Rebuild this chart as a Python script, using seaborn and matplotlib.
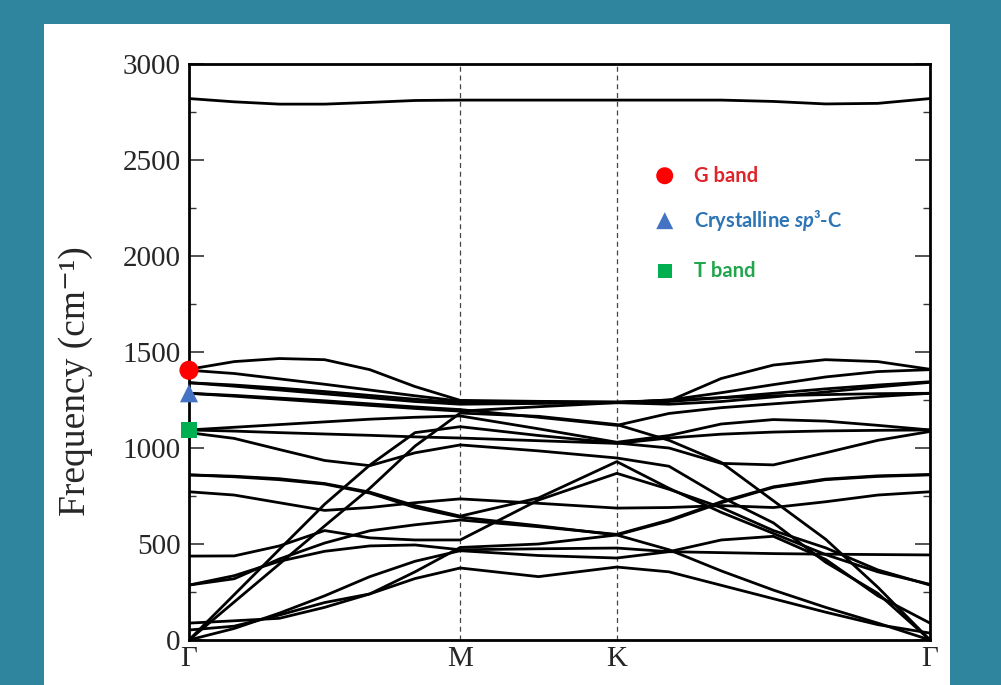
import numpy as np
import pandas as pd
import matplotlib
matplotlib.use("Agg")
import matplotlib.pyplot as plt
from matplotlib.patches import Rectangle
import seaborn as sns

# ---- high-symmetry path Γ–M–K–Γ of the hexagonal Brillouin zone ----
k_labels = ["Γ", "M", "K", "Γ"]
seg_gm, seg_mk, seg_kg = 1.0, 1 / np.sqrt(3), 2 / np.sqrt(3)
k_nodes = [0.0, seg_gm, seg_gm + seg_mk, seg_gm + seg_mk + seg_kg]
k_path = np.concatenate([
    np.linspace(k_nodes[0], k_nodes[1], 7),
    np.linspace(k_nodes[1], k_nodes[2], 3)[1:],
    np.linspace(k_nodes[2], k_nodes[3], 7)[1:],
])

# ---- phonon branches (cm^-1) sampled along k_path ----
band_top = [2820, 2803, 2791, 2791, 2800, 2810, 2812, 2812, 2812, 2812, 2812, 2805, 2792, 2795, 2820]
band_a = [1410, 1450, 1466, 1460, 1408, 1320, 1248, 1243, 1240, 1245, 1362, 1432, 1460, 1450, 1410]
band_b = [1405, 1388, 1360, 1332, 1302, 1272, 1244, 1240, 1238, 1250, 1288, 1330, 1370, 1398, 1408]
band_c = [1340, 1322, 1302, 1282, 1262, 1242, 1228, 1232, 1236, 1228, 1242, 1266, 1292, 1318, 1342]
band_c2 = [1340, 1328, 1312, 1294, 1274, 1254, 1236, 1236, 1237, 1242, 1262, 1285, 1308, 1328, 1345]
band_d = [1285, 1274, 1260, 1246, 1230, 1214, 1200, 1160, 1118, 1180, 1210, 1230, 1250, 1268, 1285]
band_d2 = [1285, 1270, 1254, 1238, 1222, 1206, 1192, 1215, 1236, 1250, 1262, 1272, 1278, 1283, 1285]
band_e = [1094, 1108, 1122, 1136, 1150, 1160, 1167, 1100, 1030, 1065, 1125, 1148, 1140, 1118, 1094]
band_f = [1094, 1088, 1080, 1073, 1066, 1058, 1052, 1038, 1024, 1052, 1072, 1083, 1089, 1092, 1094]
band_g = [1080, 1050, 992, 935, 908, 975, 1016, 985, 948, 905, 745, 610, 405, 243, 0]
band_s1 = [0, 236, 472, 707, 911, 1080, 1111, 1065, 1026, 1000, 920, 912, 975, 1040, 1086]
band_s2 = [0, 198, 396, 594, 790, 1010, 1182, 1165, 1122, 1040, 925, 725, 525, 275, 0]
band_h1 = [860, 850, 835, 812, 765, 690, 640, 595, 547, 620, 715, 795, 835, 852, 860]
band_h2 = [860, 853, 840, 815, 770, 700, 645, 740, 929, 790, 665, 555, 445, 355, 290]
band_i = [772, 755, 715, 675, 690, 715, 735, 712, 687, 690, 700, 690, 720, 755, 772]
band_j = [437, 438, 490, 570, 532, 521, 521, 729, 868, 785, 690, 570, 480, 365, 286]
band_k1 = [286, 319, 422, 505, 569, 600, 625, 590, 550, 625, 720, 798, 838, 855, 862]
band_k2 = [286, 335, 410, 462, 490, 495, 470, 475, 479, 460, 455, 450, 447, 445, 443]
band_l1 = [88, 100, 113, 170, 240, 355, 482, 500, 547, 470, 360, 260, 170, 88, 0]
band_l2 = [52, 72, 130, 195, 240, 320, 375, 330, 380, 355, 285, 215, 145, 80, 36]
band_za = [0, 60, 140, 230, 330, 410, 465, 440, 427, 460, 521, 540, 420, 230, 88]

# ---- Raman-relevant modes at Γ ----
mode_names = ["G band", "Crystalline sp³-C", "T band"]
mode_freqs = [1405, 1285, 1094]
mode_markers = ["o", "^", "s"]
mode_colors = ["#ff0000", "#4472c4", "#00b050"]
mode_text_colors = ["#e0242b", "#2e75b6", "#21a54d"]

bands = [band_top, band_a, band_b, band_c, band_c2, band_d, band_d2, band_e, band_f,
         band_g, band_s1, band_s2, band_h1, band_h2, band_i, band_j, band_k1, band_k2,
         band_l1, band_l2, band_za]
df = pd.concat(
    [pd.DataFrame({"k": k_path, "freq": b, "band": n}) for n, b in enumerate(bands)],
    ignore_index=True,
)

sns.set_theme(style="ticks")
plt.rcParams["font.family"] = ["Liberation Serif", "DejaVu Serif"]
plt.rcParams["mathtext.fontset"] = "custom"
plt.rcParams["mathtext.it"] = "Lato:italic:bold"
plt.rcParams["mathtext.rm"] = "Lato:bold"

W, H = 1001, 685
fig = plt.figure(figsize=(W / 100, H / 100), dpi=100)
fig.patch.set_facecolor("#2f859d")
fig.add_artist(Rectangle((44 / W, 0), 906 / W, (H - 24) / H, transform=fig.transFigure,
                         facecolor="white", edgecolor="none", zorder=0))
ax = fig.add_axes([189 / W, 45 / H, 741 / W, 576 / H])
ax.set_facecolor("white")

sns.lineplot(data=df, x="k", y="freq", units="band", estimator=None,
             color="black", lw=2.0, ax=ax, legend=False)

for kx in k_nodes[1:3]:
    ax.axvline(kx, color="#444444", lw=0.9, ls=(0, (4, 3)), zorder=1)

# highlighted Γ-point modes
sizes = [190, 170, 130]
for f, m, c, s in zip(mode_freqs, mode_markers, mode_colors, sizes):
    sns.scatterplot(x=[0.0], y=[f], marker=m, color=c, s=s, edgecolor="none",
                    clip_on=False, zorder=6, ax=ax, legend=False)

# key
key_y = [0.806, 0.728, 0.641]
leg_sizes = [150, 150, 100]
for name, m, c, tc, yy, s in zip(mode_names, mode_markers, mode_colors,
                                 mode_text_colors, key_y, leg_sizes):
    ax.scatter([0.642], [yy], marker=m, color=c, s=s, edgecolor="none",
               transform=ax.transAxes, zorder=6)
    label = name.replace("sp³", "$sp$³")
    ax.text(0.681, yy, label, transform=ax.transAxes, color=tc, fontsize=14.5,
            fontweight="bold", family="Lato", va="center", ha="left")

ax.set_xlim(k_nodes[0], k_nodes[-1])
ax.set_ylim(0, 3000)
ax.set_xticks(k_nodes)
ax.set_xticklabels(k_labels)
ax.set_yticks(np.arange(0, 3001, 500))
ax.set_yticks(np.arange(0, 3001, 250), minor=True)
ax.tick_params(axis="x", length=0, pad=4, labelsize=21)
ax.tick_params(axis="y", which="major", direction="in", length=11, width=1.2,
               left=True, right=True, labelsize=21, pad=6, color="#333333")
ax.tick_params(axis="y", which="minor", direction="in", length=5, width=1.0,
               left=True, right=True, color="#333333")
ax.set_xlabel("")
ax.set_ylabel("Frequency (cm⁻¹)", fontsize=27)
ax.yaxis.set_label_coords(-0.129, 0.45)
for sp in ax.spines.values():
    sp.set_linewidth(2.0)
    sp.set_color("black")
    sp.set_visible(True)

fig.savefig("out.png", dpi=100, facecolor=fig.get_facecolor())
